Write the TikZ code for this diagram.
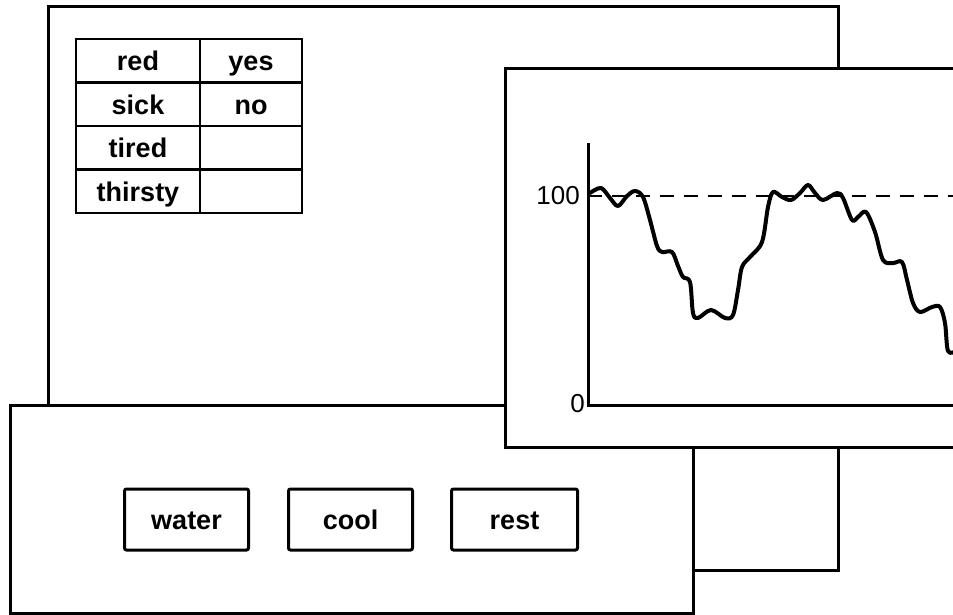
\documentclass[tikz,border=0pt]{standalone}
\usepackage{fontspec}
\setmainfont{Liberation Sans}
\usetikzlibrary{positioning}

\begin{document}
\begin{tikzpicture}[
    x=1pt, y=-1pt,
    window/.style={draw, fill=white, line width=3pt},
    keycell/.style={draw, line width=2.6pt, minimum width=124pt, minimum height=43.5pt,
        inner sep=0pt, outer sep=0pt, font=\bfseries\fontsize{27}{30}\selectfont,
        text height=22pt, text depth=2pt},
    valcell/.style={keycell, minimum width=102pt},
    button/.style={draw, line width=3pt, rounded corners=2pt, minimum width=124pt,
        minimum height=61pt, inner sep=0pt, outer sep=0pt,
        font=\bfseries\fontsize{27}{30}\selectfont, text height=22pt, text depth=2pt},
    ticklabel/.style={inner sep=1pt, font=\fontsize{26}{28}\selectfont},
    curve/.style={line width=4pt, line join=round, line cap=round}
]
    \useasboundingbox (0,0) rectangle (953,615);
    \clip (0,0) rectangle (953,615);

    % Back window with the symptom table
    \draw[window] (48,7) rectangle (838,570);
    \node[keycell] (red) at (138,60.75) {red};
    \node[valcell, right=0pt of red] (redval) {yes};
    \node[keycell, below=0pt of red] (sick) {sick};
    \node[valcell, right=0pt of sick] (sickval) {no};
    \node[keycell, below=0pt of sick] (tired) {tired};
    \node[valcell, right=0pt of tired] (tiredval) {};
    \node[keycell, below=0pt of tired] (thirsty) {thirsty};
    \node[valcell, right=0pt of thirsty] (thirstyval) {};

    % Bottom window with the action buttons
    \draw[window] (10,405) rectangle (693,613);
    \node[button] (water) at (186.5,519.5) {water};
    \node[button] (cool) [right=40pt of water] {cool};
    \node[button, minimum width=126pt] (rest) [right=39pt of cool] {rest};

    % Graph window in front
    \draw[window] (505,69) rectangle (975,447);
    \coordinate (origin) at (588,405);
    \coordinate (ytop) at (588,143);
    \coordinate (xend) at (975,405);
    \coordinate (full) at (588,196);
    \coordinate (fullend) at (975,196);
    \draw[line width=3pt] (ytop) -- (origin) -- (xend);
    \draw[line width=2.4pt, dash pattern=on 14pt off 10pt] (full) -- (fullend);
    \node[ticklabel, left=7pt of full] (hundred) {100};
    \node[ticklabel, anchor=east] (zero) at (586,404) {0};

    \draw[curve] plot[smooth, tension=0.55] coordinates {
        (590,193) (601,188) (610,198) (618,206) (627,196) (635,191) (643,197)
        (650,220) (657,246) (662,252) (672,252) (678,266) (683,277) (690,282)
        (693,313) (698,318) (711,310) (725,318) (733,315) (738,290) (742,267)
        (750,257) (762,242) (768,207) (773,192) (782,197) (791,200) (800,193)
        (808,185) (815,193) (823,200) (837,193) (843,198) (852,220) (858,217)
        (866,212) (875,232) (883,260) (893,263) (902,262) (907,280) (913,303)
        (920,312) (932,307) (940,307) (945,323) (948,351) (956,351)};
\end{tikzpicture}
\end{document}
